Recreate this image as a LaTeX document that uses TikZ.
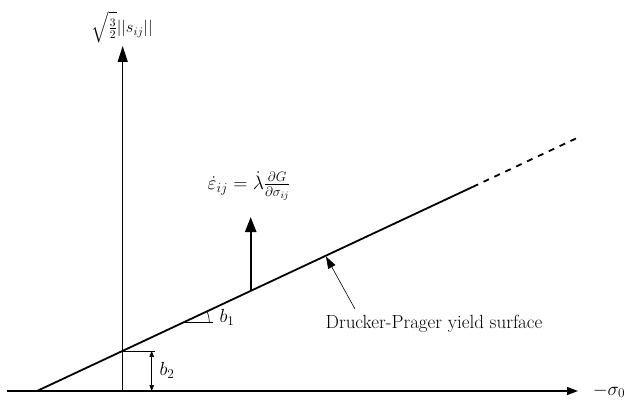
\RequirePackage{fix-cm}
\documentclass[tikz,border=0pt]{standalone}
\usepackage{amsmath}
\usetikzlibrary{arrows.meta}
\begin{document}
\begin{tikzpicture}[x=1pt,y=-1pt,
  lbl/.style={inner sep=0pt,font=\fontsize{19}{22}\selectfont},
  axis/.style={line width=1.2pt},
  surf/.style={line width=1.8pt},
  thin/.style={line width=0.6pt}]
\useasboundingbox (0,0) rectangle (627,404);
% coordinates
\coordinate (xs) at (7,391);
\coordinate (xe) at (578,391);
\coordinate (ys) at (122.7,391);
\coordinate (ye) at (122.7,46);
\coordinate (p0) at (37,391);
\coordinate (pi) at (122.7,350.9);
\coordinate (p1) at (472.7,186.9);
\coordinate (p2) at (577,138);
\coordinate (pa) at (181.7,322.6);
\coordinate (pb) at (213.3,322.6);
\coordinate (fa) at (250.7,290.9);
\coordinate (ft) at (250.7,217);
\coordinate (pt) at (326,256.5);
\coordinate (pf) at (355,309);
\coordinate (bt) at (151.7,350.9);
\coordinate (bb) at (151.7,391);
\coordinate (bk) at (155,350.9);
% axes
\draw[axis,-{Triangle[length=11pt,width=8pt]}] (xs) -- (xe);
\draw[axis,-{Triangle[length=16pt,width=10pt]}] (ys) -- (ye);
% yield surface
\draw[surf] (p0) -- (p1);
\draw[surf,dash pattern=on 6pt off 6pt] (p1) -- (p2);
% b1 angle
\draw[thin] (pa) -- (pb);
\draw[thin] ([shift={(27.6,0)}]pa) arc[start angle=0,end angle=-25.1,radius=27.6];
% b2
\draw[thin] (pi) -- (bk);
\draw[thin,{Triangle[length=6pt,width=4.5pt]}-{Triangle[length=6pt,width=4.5pt]}] (bt) -- (bb);
% flow arrow
\draw[line width=2.4pt,-{Triangle[length=15pt,width=11pt]}] (fa) -- (ft);
% pointer
\draw[thin,-{Triangle[length=12pt,width=8pt]}] (pf) -- (pt);
% labels
\node[lbl] (lx) at (609,391) {$-\sigma_0$};
\node[lbl,font=\fontsize{16.5}{20}\selectfont,anchor=south] (ly) at (122,43.5) {$\sqrt{\frac{3}{2}}||s_{ij}||$};
\node[lbl,font=\fontsize{19.5}{23}\selectfont] (lf) at (249,186) {$\dot{\varepsilon}_{ij}=\dot{\lambda}\frac{\partial G}{\partial\sigma_{ij}}$};
\node[lbl] (lb1) at (227,317) {$b_1$};
\node[lbl] (lb2) at (167,370) {$b_2$};
\node[lbl] (ld) at (434,324) {Drucker-Prager yield surface};
\end{tikzpicture}
\end{document}
